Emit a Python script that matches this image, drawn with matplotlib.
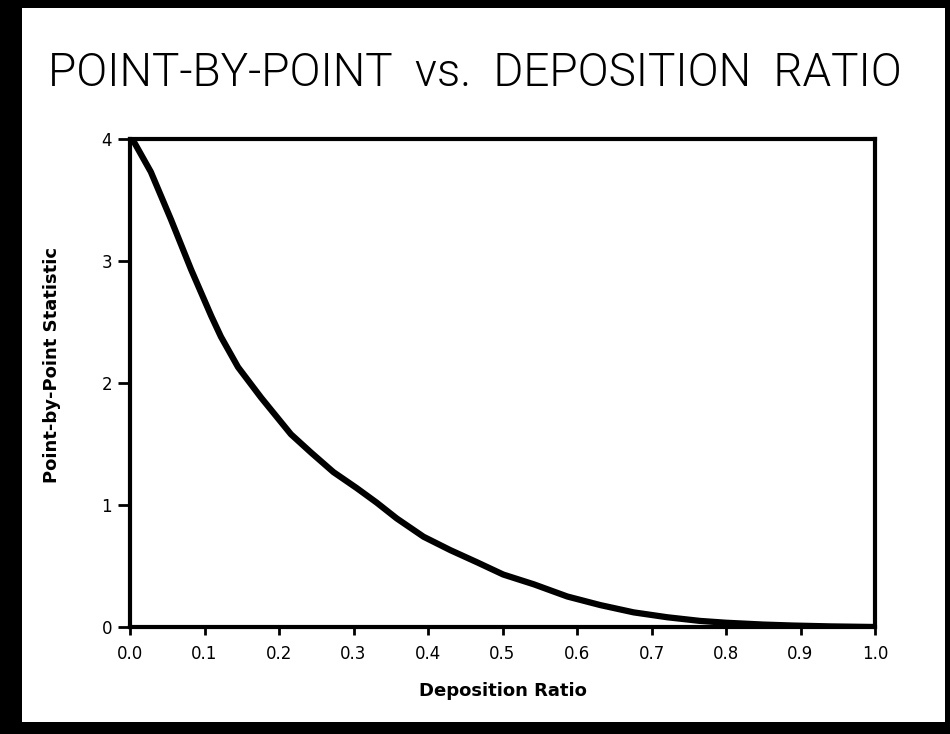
import matplotlib
matplotlib.use("Agg")
import matplotlib.pyplot as plt
from matplotlib import font_manager
from matplotlib.patches import Rectangle

# dados (estatistica ponto a ponto x razao de deposicao)
razao = [0.0, 0.005, 0.028, 0.055, 0.082, 0.109, 0.122, 0.145, 0.176, 0.216,
         0.243, 0.273, 0.304, 0.331, 0.358, 0.394, 0.430, 0.466, 0.501, 0.542,
         0.587, 0.631, 0.676, 0.721, 0.765, 0.80, 0.85, 0.89, 0.94, 1.0]
estatistica = [4.0, 3.98, 3.73, 3.34, 2.93, 2.55, 2.38, 2.13, 1.88, 1.58,
               1.43, 1.27, 1.14, 1.02, 0.89, 0.74, 0.63, 0.53, 0.43, 0.35,
               0.25, 0.18, 0.12, 0.08, 0.05, 0.035, 0.02, 0.012, 0.005, 0.0]

ticks_x = [0.0, 0.1, 0.2, 0.3, 0.4, 0.5, 0.6, 0.7, 0.8, 0.9, 1.0]
rotulos_x = ["0.0", "0.1", "0.2", "0.3", "0.4", "0.5", "0.6", "0.7", "0.8", "0.9", "1.0"]
ticks_y = [0, 1, 2, 3, 4]

titulo = "POINT-BY-POINT  vs.  DEPOSITION  RATIO"

# fonte fina pro titulo, se tiver Roboto Light
fontes = font_manager.fontManager.ttflist
tem_roboto_light = any(f.name == "Roboto" and f.weight in (300, "light") for f in fontes)
if tem_roboto_light:
    fonte_titulo = "Roboto"
    peso_titulo = 300
    tam_titulo = 33
else:
    fonte_titulo = "DejaVu Sans"
    peso_titulo = "normal"
    tam_titulo = 30

fig = plt.figure(figsize=(9.5, 7.34), dpi=100)
fig.patch.set_facecolor("black")

# moldura branca dentro da borda preta (atras de tudo)
fig.patches.append(Rectangle((22 / 950, 12 / 734), (945 - 22) / 950, (726 - 12) / 734,
                             transform=fig.transFigure, facecolor="white",
                             edgecolor="none", zorder=-10))

ax = fig.add_axes([130 / 950, 1 - 627 / 734, (875 - 130) / 950, (627 - 139) / 734])
ax.set_zorder(5)
ax.plot(razao, estatistica, color="black", linewidth=4.5, solid_capstyle="round",
        solid_joinstyle="round")

ax.set_xlim(0, 1.0)
ax.set_ylim(0, 4)
ax.set_xticks(ticks_x)
ax.set_xticklabels(rotulos_x)
ax.set_yticks(ticks_y)

for lado in ["left", "right", "top", "bottom"]:
    ax.spines[lado].set_linewidth(3)

ax.tick_params(axis="x", direction="out", length=6, width=2, labelsize=12, pad=7)
ax.tick_params(axis="y", direction="out", length=9, width=2, labelsize=12, pad=4)
for lbl in ax.get_xticklabels() + ax.get_yticklabels():
    lbl.set_fontweight("medium")

ax.set_xlabel("Deposition Ratio", fontsize=13, fontweight="bold", labelpad=14)
ax.set_ylabel("Point-by-Point Statistic", fontsize=13, fontweight="bold")
ax.yaxis.set_label_coords(-0.092, 0.537)

fig.text(475 / 950, 1 - 73 / 734, titulo, fontsize=tam_titulo, family=fonte_titulo,
         fontweight=peso_titulo, ha="center", va="center")

fig.savefig("out.png", dpi=100, facecolor=fig.get_facecolor())
